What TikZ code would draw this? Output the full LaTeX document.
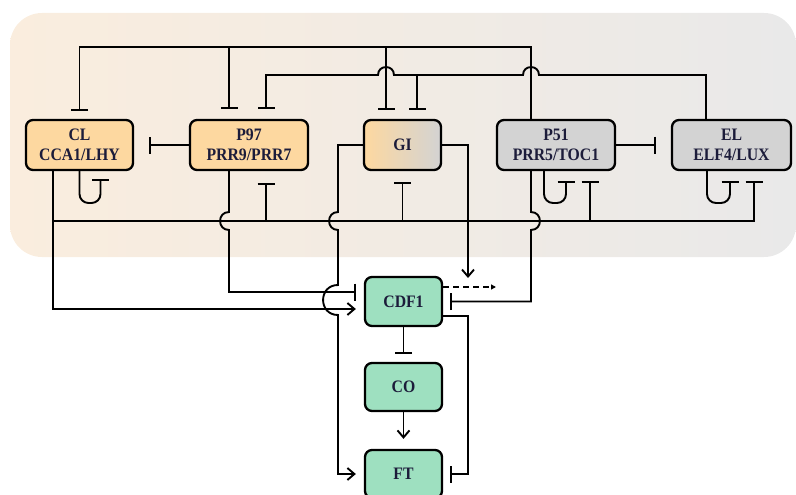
\documentclass[tikz,border=0pt]{standalone}
\usepackage{fontspec}
\setmainfont{Liberation Serif}[FakeStretch=0.9]
\usetikzlibrary{arrows.meta}
\definecolor{orf}{RGB}{253,216,160}
\definecolor{grf}{RGB}{211,211,211}
\definecolor{gnf}{RGB}{158,224,192}
\definecolor{txt}{RGB}{28,28,58}
\definecolor{bgl}{RGB}{250,237,222}
\definecolor{bgr}{RGB}{233,233,233}
\begin{document}
\begin{tikzpicture}[x=1pt,y=-1pt,
 box/.style={draw=black,line width=2.3pt,rounded corners=7pt,minimum height=50pt,align=center,inner sep=0pt,text=txt,font=\fontsize{17.5}{20}\selectfont\bfseries},
 ln/.style={line width=1.9pt},
 inh/.style={ln,-{Bar[width=17pt]}},
 act/.style={ln,-{Straight Barb[length=7pt,width=12pt]}},
 hop/.style={out=#1,in=#1,looseness=1.7}]
\useasboundingbox (0,0) rectangle (796,495);
\shade[left color=bgl,right color=bgr,rounded corners=32pt] (10,13) rectangle (796,257);

\node[box,fill=orf,minimum width=107pt] (CL) at (79.5,145) {CL\\CCA1/LHY};
\node[box,fill=orf,minimum width=118pt] (P97) at (249,145) {P97\\PRR9/PRR7};
\node[box,left color=orf,right color=grf,minimum width=77pt] (GI) at (402.5,145) {GI};
\node[box,fill=grf,minimum width=118pt] (P51) at (556,145) {P51\\PRR5/TOC1};
\node[box,fill=grf,minimum width=119pt] (EL) at (731.5,145) {EL\\ELF4/LUX};
\node[box,fill=gnf,minimum width=77pt,minimum height=49pt] (CDF1) at (403.5,301.5) {CDF1};
\node[box,fill=gnf,minimum width=77pt,minimum height=48pt] (CO) at (403.5,387) {CO};
\node[box,fill=gnf,minimum width=77pt,minimum height=48pt] (FT) at (403.5,474) {FT};

% P51 represses CL, P97, GI
\draw[inh] ([xshift=-25pt]P51.north) -- (531,47) -- (79.5,47) -- ([yshift=8pt]CL.north);
\draw[inh] (229,47) -- ([xshift=-20pt,yshift=10pt]P97.north);
\draw[inh] (386,47) -- ([xshift=-16.5pt,yshift=9pt]GI.north);

% EL represses P97, GI
\draw[inh] ([xshift=-25.5pt]EL.north) -- (706,75) -- (539,75) to[hop=90] (523,75) -- (394,75) to[hop=90] (378,75) -- (266,75) -- ([xshift=17pt,yshift=10pt]P97.north);
\draw[inh] (417,75) -- ([xshift=14.5pt,yshift=9pt]GI.north);

% side repressions
\draw[inh] (P97.west) -- ([xshift=15pt]CL.east);
\draw[inh] (P51.east) -- ([xshift=-15pt]EL.west);

% self loops
\draw[inh,rounded corners=9pt] (CL.south) -- (79.5,203) -- (100.5,203) -- ([xshift=21pt,yshift=-8pt]CL.south);
\draw[inh,rounded corners=9pt] ([xshift=-12pt]P51.south) -- (544,203) -- (566,203) -- ([xshift=10pt,yshift=-10pt]P51.south);
\draw[inh,rounded corners=9pt] ([xshift=-24.5pt]EL.south) -- (707,203) -- (730,203) -- ([xshift=-1.5pt,yshift=-10pt]EL.south);

% CL represses P97, GI, P51, EL
\draw[inh] ([xshift=-26.5pt]CL.south) -- (53,221) -- (754,221) -- ([xshift=22.5pt,yshift=-10pt]EL.south);
\draw[inh] (266,221) -- ([xshift=17pt,yshift=-12pt]P97.south);
\draw[inh] (402.5,221) -- ([yshift=-11pt]GI.south);
\draw[inh] (590,221) -- ([xshift=34pt,yshift=-10pt]P51.south);

% to CDF1
\draw[act] ([xshift=-26.5pt]CL.south) -- (53,309) -- ([xshift=-8pt,yshift=-7.5pt]CDF1.west);
\draw[inh] ([xshift=-20pt]P97.south) -- (229,212) to[hop=180] (229,230) -- (229,292) -- ([xshift=-8pt,yshift=9.5pt]CDF1.west);
\draw[act] (GI.west) -- (338,145) -- (338,212) to[hop=180] (338,230) -- (338,285) to[hop=180] (338,315) -- (338,474) -- ([xshift=-8pt]FT.west);
\coordinate (gitip) at (468,278);
\draw[act] (GI.east) -- (468,145) -- (gitip);
\coordinate (dashend) at (496,287);
\draw[line width=1.5pt,dash pattern=on 6pt off 4pt,-{Triangle[length=5pt,width=5pt]}] ([yshift=14.5pt]CDF1.east) -- (dashend);
\draw[inh] ([xshift=-25pt]P51.south) -- (531,212) to[hop=0] (531,230) -- (531,301.5) -- ([xshift=7pt]CDF1.east);

% lower cascade
\draw[inh] (CDF1.south) -- ([yshift=8pt]CO.north);
\draw[act] (CO.south) -- ([yshift=10pt]FT.north);
\draw[inh] ([yshift=-14.5pt]CDF1.east) -- (468,316) -- (468,474) -- ([xshift=7pt]FT.east);
\end{tikzpicture}
\end{document}
